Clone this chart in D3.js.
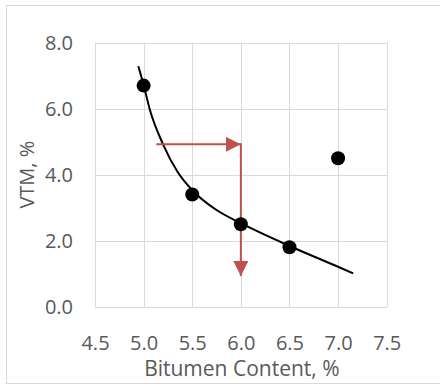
<!DOCTYPE html>
<html>
<head>
<meta charset="utf-8">
<script src="https://cdn.jsdelivr.net/npm/d3@7"></script>
<style>
  body { margin: 0; background: #fff; }
  text { font-family: "Open Sans", sans-serif; fill: #595959; }
</style>
</head>
<body>
<div id="chart"></div>
<script>
// --- Data ---
const bitumen = [5.0, 5.5, 6.0, 6.5, 7.0];
const vtm = [6.7, 3.4, 2.5, 1.8, 4.5];

// trend line
const trendX = [4.945, 5.0, 5.065, 5.2, 5.35, 5.5, 5.75, 6.0, 6.5, 7.0, 7.155];
const trendY = [7.29, 6.72, 5.96, 4.92, 4.08, 3.53, 2.93, 2.53, 1.84, 1.21, 1.01];

// red read-off arrows
const arrowLevel = 4.92;
const arrowStartX = 5.13;
const arrowTargetX = 6.0;
const arrowEndY = 0.93;

const xTicks = [4.5, 5.0, 5.5, 6.0, 6.5, 7.0, 7.5];
const yTicks = [0, 2, 4, 6, 8];

const width = 440, height = 386;
const margin = {left: 95, right: 53.3, top: 42.7, bottom: 79.3};

const svg = d3.select("#chart").append("svg")
    .attr("width", width)
    .attr("height", height);

// chart frame
svg.append("rect")
    .attr("x", 6.5).attr("y", 5.5)
    .attr("width", 440).attr("height", 378)
    .attr("fill", "#fff")
    .attr("stroke", "#D9D9D9")
    .attr("stroke-width", 1);

const x = d3.scaleLinear().domain([4.5, 7.5]).range([margin.left, width - margin.right]);
const y = d3.scaleLinear().domain([0, 8]).range([height - margin.bottom, margin.top]);

// --- Gridlines ---
const grid = svg.append("g").attr("stroke", "#D9D9D9").attr("stroke-width", 1);
grid.selectAll("line.v")
    .data(xTicks)
    .enter().append("line")
    .attr("class", "v")
    .attr("x1", d => Math.round(x(d)) + 0.5).attr("x2", d => Math.round(x(d)) + 0.5)
    .attr("y1", y(8)).attr("y2", y(0));
grid.selectAll("line.h")
    .data(yTicks)
    .enter().append("line")
    .attr("class", "h")
    .attr("y1", d => Math.round(y(d)) + 0.5).attr("y2", d => Math.round(y(d)) + 0.5)
    .attr("x1", x(4.5)).attr("x2", x(7.5));

// --- Axes (labels only) ---
const xAxis = svg.append("g")
    .attr("transform", `translate(0,${y(0)})`)
    .call(d3.axisBottom(x).tickValues(xTicks).tickSize(0).tickPadding(29).tickFormat(d3.format(".1f")));
const yAxis = svg.append("g")
    .attr("transform", `translate(${x(4.5)},0)`)
    .call(d3.axisLeft(y).tickValues(yTicks).tickSize(0).tickPadding(22).tickFormat(d3.format(".1f")));

[xAxis, yAxis].forEach(a => {
    a.select(".domain").remove();
    a.selectAll("text")
        .attr("fill", "#595959")
        .style("font-family", "'Open Sans', sans-serif")
        .style("font-size", "20px");
});

// axis titles
svg.append("text")
    .attr("x", (x(4.5) + x(7.5)) / 2 + 1)
    .attr("y", 376)
    .attr("text-anchor", "middle")
    .style("font-size", "21px")
    .text("Bitumen Content, %");

svg.append("text")
    .attr("transform", `translate(34,${(y(0) + y(8)) / 2}) rotate(-90)`)
    .attr("text-anchor", "middle")
    .style("font-size", "20px")
    .text("VTM, %");

// --- Trend line ---
const trend = trendX.map((d, i) => [d, trendY[i]]);
svg.append("path")
    .datum(trend)
    .attr("fill", "none")
    .attr("stroke", "#000")
    .attr("stroke-width", 2)
    .attr("d", d3.line().x(d => x(d[0])).y(d => y(d[1])).curve(d3.curveMonotoneX));

// --- Red arrows ---
const red = "#C0504D";
const defs = svg.append("defs");
defs.append("marker")
    .attr("id", "arrow")
    .attr("viewBox", "0 0 10 10")
    .attr("refX", 10).attr("refY", 5)
    .attr("markerUnits", "userSpaceOnUse")
    .attr("markerWidth", 15).attr("markerHeight", 15)
    .attr("orient", "auto")
    .append("path")
    .attr("d", "M0,0 L10,5 L0,10 Z")
    .attr("fill", red);

svg.append("line")
    .attr("x1", x(arrowStartX)).attr("y1", y(arrowLevel))
    .attr("x2", x(arrowTargetX)).attr("y2", y(arrowLevel))
    .attr("stroke", red).attr("stroke-width", 2)
    .attr("marker-end", "url(#arrow)");

svg.append("line")
    .attr("x1", x(arrowTargetX)).attr("y1", y(arrowLevel) - 1)
    .attr("x2", x(arrowTargetX)).attr("y2", y(arrowEndY))
    .attr("stroke", red).attr("stroke-width", 2)
    .attr("marker-end", "url(#arrow)");

// --- Data points ---
svg.selectAll("circle.pt")
    .data(bitumen)
    .enter().append("circle")
    .attr("class", "pt")
    .attr("cx", d => x(d))
    .attr("cy", (d, i) => y(vtm[i]))
    .attr("r", 7)
    .attr("fill", "#000");
</script>
</body>
</html>
